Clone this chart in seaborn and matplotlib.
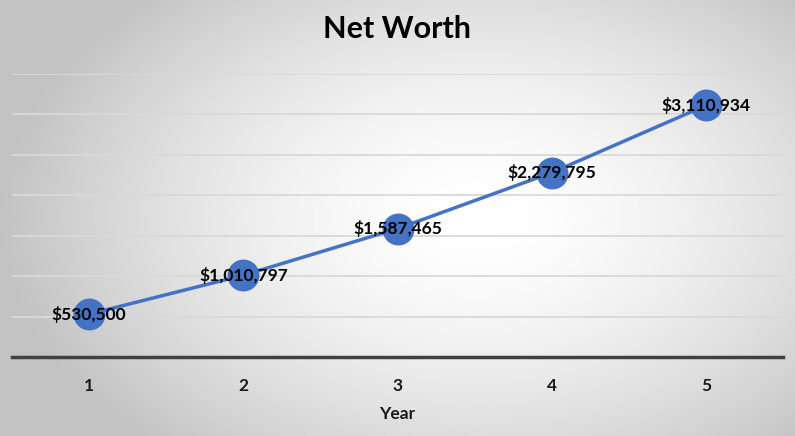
import numpy as np
import pandas as pd
import matplotlib.pyplot as plt
import seaborn as sns

years = [1, 2, 3, 4, 5]
net_worth = [530500, 1010797, 1587465, 2279795, 3110934]
labels = ["$530,500", "$1,010,797", "$1,587,465", "$2,279,795", "$3,110,934"]

df = pd.DataFrame({"Year": years, "Net Worth": net_worth})

sns.set_style("white")
plt.rcParams['font.family'] = ['Lato', 'DejaVu Sans']

fig = plt.figure(figsize=(7.95, 4.36), dpi=100)

# radial gradient background
bg = fig.add_axes([0, 0, 1, 1], zorder=0)
gx, gy = np.meshgrid(np.linspace(0, 1, 400), np.linspace(0, 1, 220))
r = np.sqrt(((gx - 0.6) / 0.75) ** 2 + ((gy - 0.5) / 0.9) ** 2)
shade = np.clip(1.0 - 0.34 * r ** 1.6, 0.76, 1.0)
bg.imshow(shade, cmap='gray', vmin=0, vmax=1, aspect='auto', extent=[0, 1, 0, 1])
bg.axis('off')

ax = fig.add_axes([12 / 795, (436 - 357) / 436, 771 / 795, (357 - 74) / 436], zorder=1)
ax.patch.set_alpha(0)

sns.lineplot(data=df, x="Year", y="Net Worth", ax=ax, color="#4472C4", linewidth=2.5,
             marker='o', markersize=23, markeredgewidth=0, zorder=3)

for x, y, t in zip(years, net_worth, labels):
    ax.text(x, y, t, ha='center', va='center', fontsize=12.5, fontweight='bold',
            color='black', zorder=4)

ax.set_xlim(0.5, 5.5)
ax.set_ylim(0, 3500000)
ax.set_yticks(np.arange(500000, 3500001, 500000))
ax.yaxis.grid(True, color='#d9d9d9', linewidth=1.3)
ax.set_yticklabels([])
ax.tick_params(axis='y', length=0)
ax.set_ylabel("")
ax.set_xticks(years)
ax.set_xticklabels([str(y) for y in years], fontsize=12.5, fontweight='bold', color='#1a1a1a')
ax.tick_params(axis='x', length=0, pad=15)
ax.set_xlabel("Year", fontsize=12.5, fontweight='bold', color='#1a1a1a', labelpad=9)

for s in ['top', 'right', 'left']:
    ax.spines[s].set_visible(False)
ax.spines['bottom'].set_color('#404040')
ax.spines['bottom'].set_linewidth(2.5)

fig.text(397 / 795, 1 - 29 / 436, "Net Worth", ha='center', va='center',
         fontsize=22, fontweight='bold', color='black')

fig.savefig("out.png", dpi=100)
